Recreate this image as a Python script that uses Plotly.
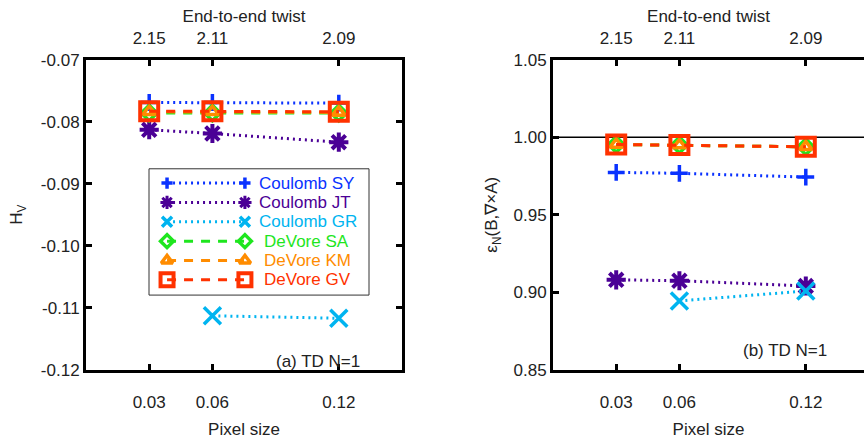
import plotly.graph_objects as go

# ---- data -------------------------------------------------------------
PIXEL = [0.03, 0.06, 0.12]
PIXEL_LABELS = ["0.03", "0.06", "0.12"]
TWIST_LABELS = ["2.15", "2.11", "2.09"]

NAMES = ["Coulomb SY", "Coulomb JT", "Coulomb GR",
         "DeVore SA", "DeVore KM", "DeVore GV"]

# relative helicity H_V
HV_SY = [-0.0769, -0.0769, -0.0770]
HV_JT = [-0.0813, -0.0819, -0.0833]
HV_GR = [None, -0.1113, -0.1117]
HV_SA = [-0.0786, -0.0786, -0.0786]
HV_KM = [-0.0784, -0.0784, -0.0785]
HV_GV = [-0.0783, -0.0783, -0.0784]

# solenoidality metric eps_N(B, curl A)
EN_SY = [0.9773, 0.9767, 0.9743]
EN_JT = [0.9080, 0.9074, 0.9040]
EN_GR = [None, 0.8944, 0.9008]
EN_SA = [0.9953, 0.9949, 0.9938]
EN_KM = [0.9953, 0.9949, 0.9938]
EN_GV = [0.9953, 0.9949, 0.9938]

HV_TICKS = [-0.12, -0.11, -0.10, -0.09, -0.08, -0.07]
HV_TICKTEXT = ["-0.12", "-0.11", "-0.10", "-0.09", "-0.08", "-0.07"]
EN_TICKS = [0.85, 0.90, 0.95, 1.00, 1.05]

HV_SERIES = [HV_SY, HV_JT, HV_GR, HV_SA, HV_KM, HV_GV]
EN_SERIES = [EN_SY, EN_JT, EN_GR, EN_SA, EN_KM, EN_GV]

# ---- styles -----------------------------------------------------------
COLORS = ["#0a32ff", "#4b0096", "#00b4f0", "#1ee61e", "#ff8c00", "#ff3200"]
SYMBOLS = ["cross-thin", "asterisk", "x-thin",
           "diamond-open", "triangle-up-open", "square-open"]
SIZES = [12, 16, 17, 12, 11, 18]
LEG_SIZES = [8, 11, 10, 10, 10, 13]
MLW = [3.5, 4, 3.5, 3.5, 3.5, 4]
LEG_MLW = [3.5, 3, 3.5, 3.5, 3.5, 4]
DASHES = ["2px,4px", "2px,4px", "2px,4px", "9px,8px", "9px,8px", "9px,8px"]

FONT = "Liberation Sans"
FS = 17
TXT = "#222222"

W, H = 864, 440
LEFT_X = [86 / W, 402 / W]
RIGHT_X = [553 / W, 1.0]
PLOT_Y = [1 - 377 / H, 1 - 53 / H]
PX_PER_UNIT = (402 - 86) / 0.15

fig = go.Figure()


def add_series(values, xa, ya):
    for i, vals in enumerate(values):
        fig.add_trace(go.Scatter(
            x=PIXEL, y=vals, xaxis=xa, yaxis=ya, mode="lines+markers",
            name=NAMES[i], showlegend=False, hoverinfo="skip",
            line=dict(color=COLORS[i], width=3, dash=DASHES[i]),
            marker=dict(symbol=SYMBOLS[i], size=SIZES[i], color=COLORS[i],
                        line=dict(color=COLORS[i], width=MLW[i])),
        ))


add_series(HV_SERIES, "x", "y")
add_series(EN_SERIES, "x2", "y2")

# hidden traces that carry the top (twist) axes
for xa, ya in (("x3", "y"), ("x4", "y2")):
    fig.add_trace(go.Scatter(x=PIXEL, y=[None] * 3, xaxis=xa, yaxis=ya,
                             mode="markers", showlegend=False,
                             hoverinfo="skip"))

# MATLAB-style legend box in panel (a): line sample with a marker at each end
LEG_X = [0.082, 0.436]
for i, name in enumerate(NAMES):
    fig.add_trace(go.Scatter(
        x=LEG_X, y=[i, i], xaxis="x5", yaxis="y5", mode="lines+markers",
        showlegend=False, hoverinfo="skip",
        line=dict(color=COLORS[i], width=3, dash=DASHES[i]),
        marker=dict(symbol=SYMBOLS[i], size=LEG_SIZES[i], color=COLORS[i],
                    line=dict(color=COLORS[i], width=LEG_MLW[i])),
    ))
    fig.add_annotation(
        x=0.49 if name.startswith("Coulomb") else 0.513, y=i,
        xref="x5", yref="y5", text=name, showarrow=False,
        xanchor="left", yanchor="middle",
        font=dict(family=FONT, size=FS, color=COLORS[i]))

fig.add_shape(type="rect", xref="x5 domain", yref="y5 domain",
              x0=0, x1=1, y0=0, y1=1, line=dict(color="#333333", width=1))

# reference line at eps_N = 1
fig.add_shape(type="line", xref="x2 domain", yref="y2", x0=0, x1=1,
              y0=1.0, y1=1.0, layer="below",
              line=dict(color="black", width=1.5))

for txt, xa, ya, xpos, ypos in (("(a) TD N=1", "x", "y", 0.1310, -0.1186),
                                ("(b) TD N=1", "x2", "y2", 0.1312, 0.8625)):
    fig.add_annotation(x=xpos, y=ypos, xref=xa, yref=ya, text=txt,
                       showarrow=False, xanchor="right", yanchor="middle",
                       font=dict(family=FONT, size=FS, color=TXT))

tickfont = dict(family=FONT, size=FS, color=TXT)
titlefont = dict(family=FONT, size=FS, color=TXT)

common_x = dict(showline=True, linecolor="black", linewidth=3,
                ticks="inside", ticklen=6, tickwidth=3, tickcolor="black",
                tickvals=PIXEL, showgrid=False, zeroline=False,
                tickfont=tickfont, fixedrange=True)

common_y = dict(showline=True, linecolor="black", linewidth=3,
                ticks="inside", ticklen=6, tickwidth=3, tickcolor="black",
                showgrid=False, zeroline=False, tickfont=tickfont,
                fixedrange=True)

right_range = [0, (W - 553) / PX_PER_UNIT]

fig.update_layout(
    width=W, height=H, margin=dict(l=0, r=0, t=0, b=0),
    paper_bgcolor="white", plot_bgcolor="white",
    xaxis=dict(domain=LEFT_X, range=[0, 0.15], anchor="y",
               ticktext=PIXEL_LABELS, ticklabelstandoff=15,
               title=dict(text="Pixel size", font=titlefont, standoff=12),
               **common_x),
    xaxis2=dict(domain=RIGHT_X, range=right_range, anchor="y2",
                ticktext=PIXEL_LABELS, ticklabelstandoff=15,
                title=dict(text="Pixel size", font=titlefont, standoff=12),
                **common_x),
    xaxis3=dict(overlaying="x", side="top", range=[0, 0.15], anchor="y",
                ticktext=TWIST_LABELS, ticklabelstandoff=6,
                title=dict(text="End-to-end twist", font=titlefont, standoff=2),
                **common_x),
    xaxis4=dict(overlaying="x2", side="top", range=right_range, anchor="y2",
                ticktext=TWIST_LABELS, ticklabelstandoff=6,
                title=dict(text="End-to-end twist", font=titlefont, standoff=2),
                **common_x),
    yaxis=dict(domain=PLOT_Y, range=[-0.12, -0.07], anchor="x",
               tickvals=HV_TICKS, ticktext=HV_TICKTEXT, mirror="ticks",
               title=dict(text="H<sub>V</sub>", font=titlefont, standoff=14),
               **common_y),
    yaxis2=dict(domain=PLOT_Y, range=[0.85, 1.05], anchor="x2",
                tickvals=EN_TICKS, tickformat=".2f",
                title=dict(text="ε<sub>N</sub>(B,∇×A)", font=titlefont,
                           standoff=12),
                **common_y),
    xaxis5=dict(domain=[149 / W, 369 / W], range=[0, 1], anchor="y5",
                visible=False, fixedrange=True),
    yaxis5=dict(domain=[1 - 299 / H, 1 - 167 / H], range=[5.79, -0.74],
                anchor="x5", visible=False, fixedrange=True),
    showlegend=False,
)

fig.write_html("out.html")
